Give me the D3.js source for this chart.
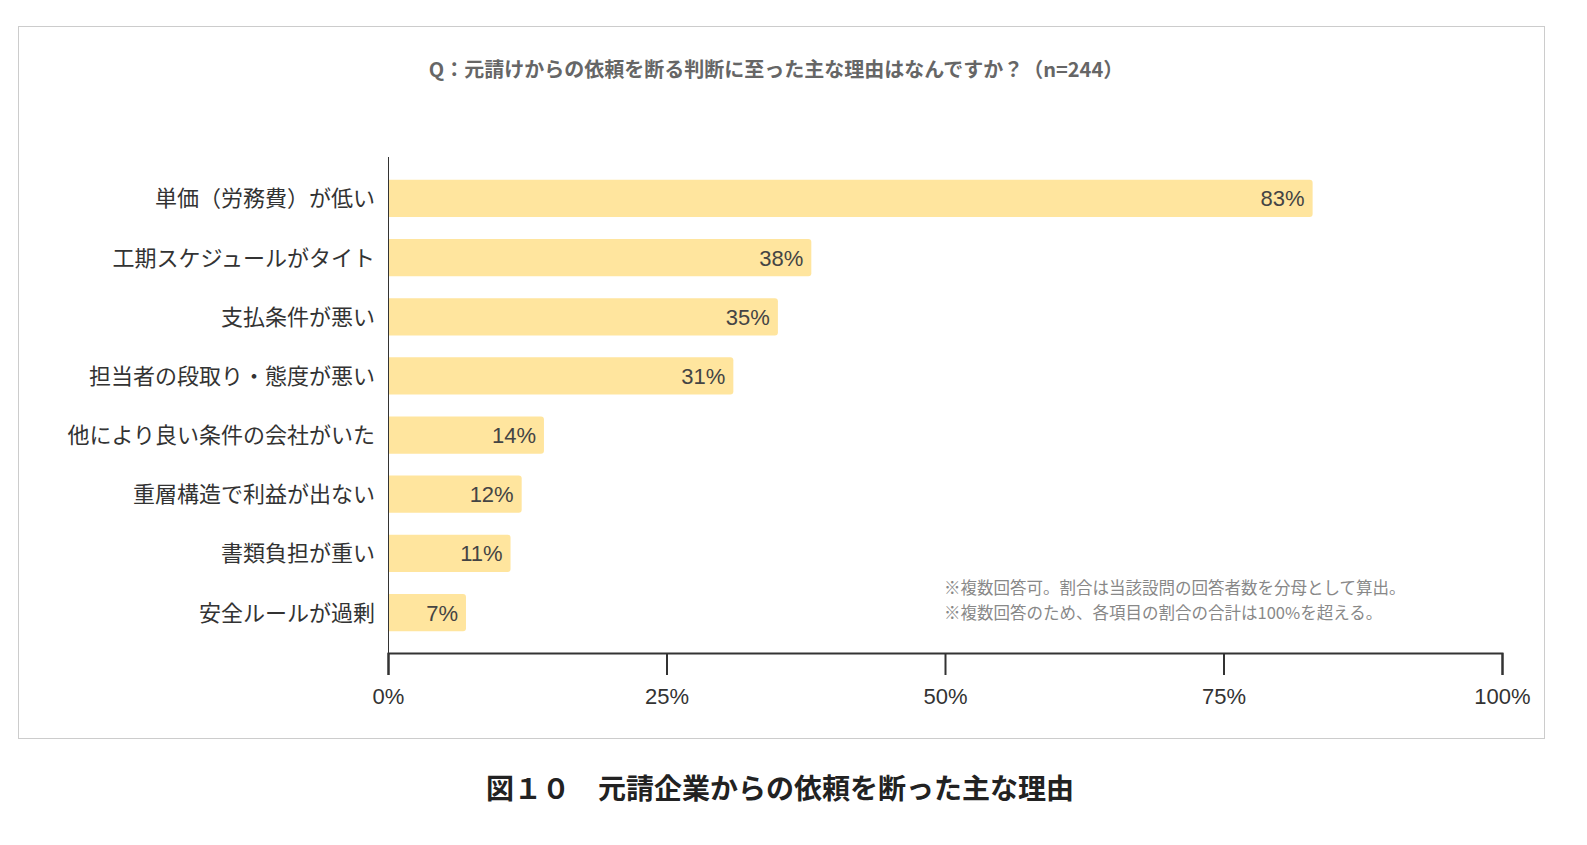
<!DOCTYPE html>
<html><head><meta charset="utf-8">
<script src="https://cdn.jsdelivr.net/npm/d3@7"></script>
<style>html,body{margin:0;background:#fff;overflow:hidden;font-family:"Noto Sans CJK JP",sans-serif;}svg{display:block;}</style>
</head><body><svg id="chart" width="1587" height="845"></svg>
<script>
var categories = ["単価（労務費）が低い","工期スケジュールがタイト","支払条件が悪い","担当者の段取り・態度が悪い","他により良い条件の会社がいた","重層構造で利益が出ない","書類負担が重い","安全ルールが過剰"];
var values = [83, 38, 35, 31, 14, 12, 11, 7];
var ticks = [0, 25, 50, 75, 100];

var svg = d3.select("#chart");
svg.append("rect").attr("x", 18.5).attr("y", 26.5).attr("width", 1526).attr("height", 712)
  .attr("fill", "#fff").attr("stroke", "#ccc");

svg.append("text").attr("x", 776).attr("y", 77).attr("text-anchor", "middle")
  .attr("font-size", 20).attr("font-weight", "bold").attr("fill", "#666")
  .text("Q：元請けからの依頼を断る判断に至った主な理由はなんですか？（n=244）");

var x = d3.scaleLinear().domain([0, 100]).range([388, 1502]);
var y = d3.scaleBand().domain(categories).range([168, 643]).paddingInner(0.37).paddingOuter(0.2);

svg.selectAll(".bar").data(values).enter().append("path")
  .attr("fill", "#FFE59E")
  .attr("d", function(d, i) {
    var x0 = x(0), x1 = x(d), y0 = y(categories[i]), h = y.bandwidth(), r = 3;
    return "M" + x0 + "," + y0 + "H" + (x1 - r) + "Q" + x1 + "," + y0 + " " + x1 + "," + (y0 + r) +
      "V" + (y0 + h - r) + "Q" + x1 + "," + (y0 + h) + " " + (x1 - r) + "," + (y0 + h) + "H" + x0 + "Z";
  });

svg.selectAll(".val").data(values).enter().append("text")
  .attr("x", function(d) { return x(d) - 8; })
  .attr("y", function(d, i) { return y(categories[i]) + y.bandwidth() / 2 + 8; })
  .attr("text-anchor", "end").attr("font-size", 22).attr("fill", "#444")
  .attr("font-family", "Liberation Sans, Arial, sans-serif")
  .text(function(d) { return d + "%"; });

svg.selectAll(".cat").data(categories).enter().append("text")
  .attr("x", 375).attr("y", function(d) { return y(d) + y.bandwidth() / 2 + 8; })
  .attr("text-anchor", "end").attr("font-size", 22).attr("fill", "#333")
  .text(function(d) { return d; });

svg.append("line").attr("x1", 388.5).attr("x2", 388.5).attr("y1", 157).attr("y2", 653).attr("stroke", "#333");

var ax = svg.append("g").attr("transform", "translate(0,653)")
  .call(d3.axisBottom(x).tickValues(ticks).tickSize(22).tickFormat(function(d) { return d + "%"; }));
ax.select(".domain").attr("stroke", "#333").attr("stroke-width", 2);
ax.selectAll(".tick line").attr("stroke", "#333").attr("stroke-width", 2);
ax.selectAll(".tick text").attr("font-size", 22).attr("fill", "#333").attr("dy", "1.2em")
  .attr("font-family", "Liberation Sans, Arial, sans-serif");

svg.append("text").attr("x", 944).attr("y", 594).attr("font-size", 16.5).attr("fill", "#888")
  .text("※複数回答可。割合は当該設問の回答者数を分母として算出。");
svg.append("text").attr("x", 944).attr("y", 619).attr("font-size", 16.5).attr("fill", "#888")
  .text("※複数回答のため、各項目の割合の合計は100%を超える。");

svg.append("text").attr("x", 780).attr("y", 799).attr("text-anchor", "middle")
  .attr("font-size", 28).attr("font-weight", "bold").attr("fill", "#222")
  .text("図１０　元請企業からの依頼を断った主な理由");
</script></body></html>
